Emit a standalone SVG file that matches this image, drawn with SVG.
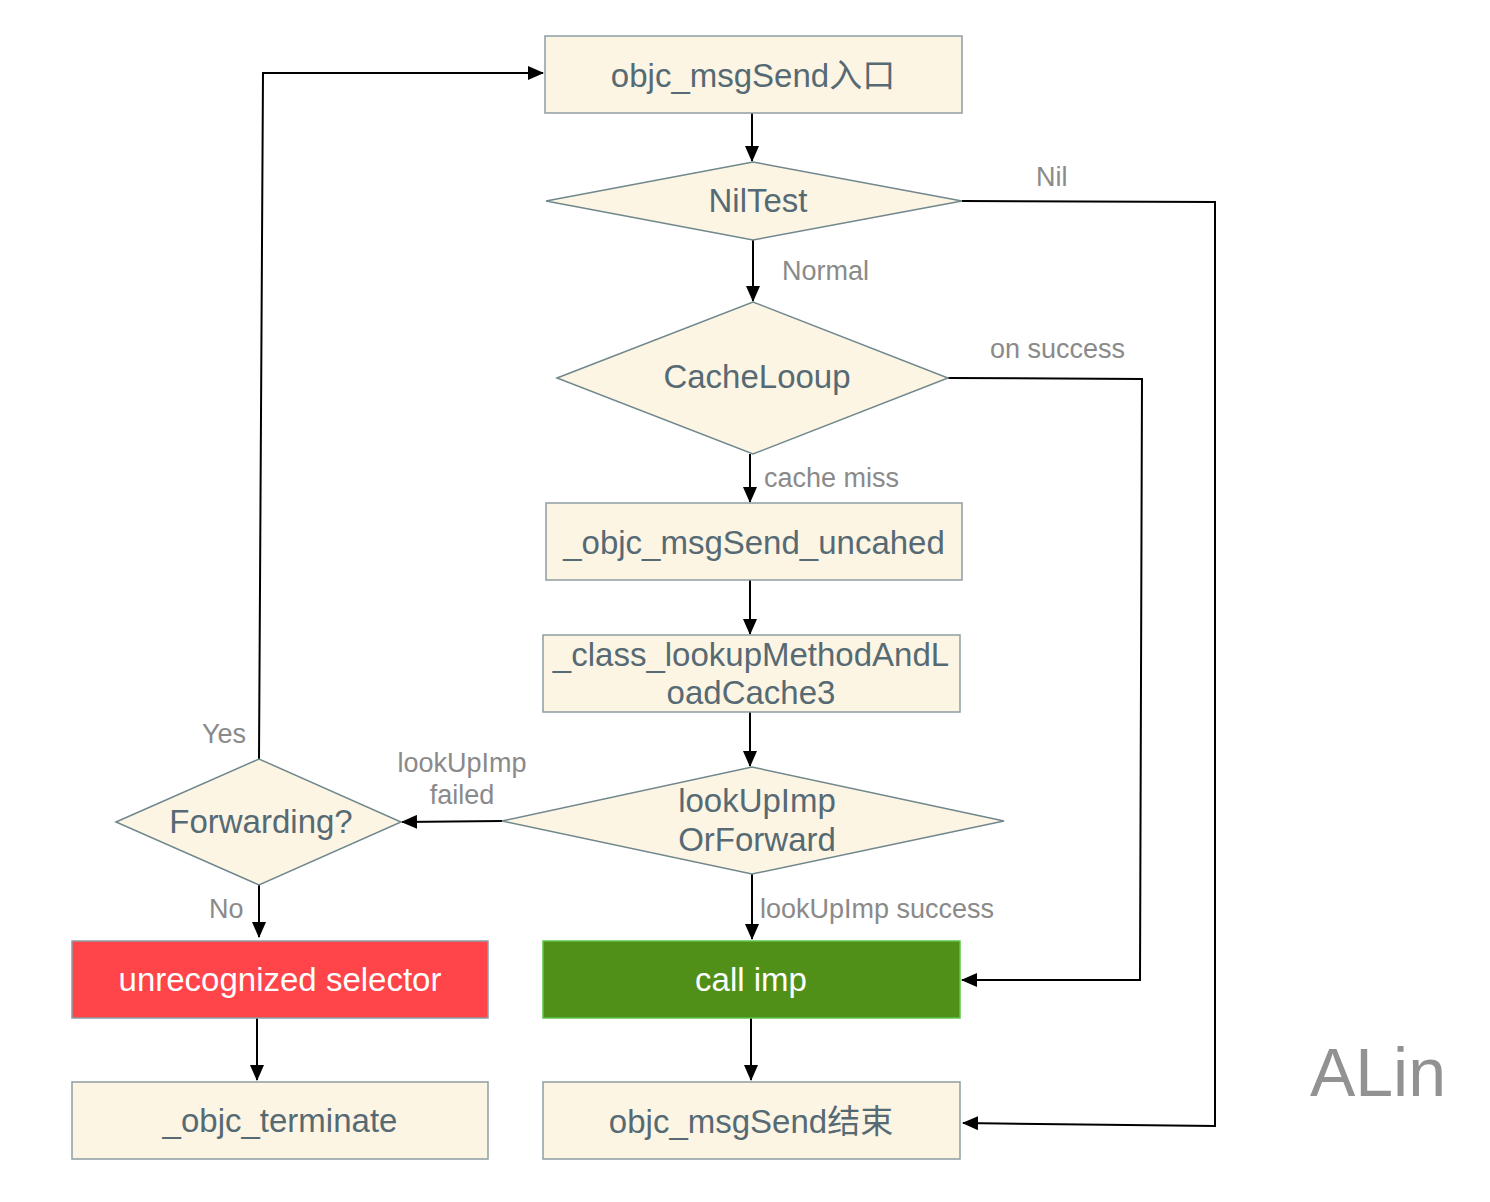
<svg xmlns="http://www.w3.org/2000/svg" width="1490" height="1202" viewBox="0 0 1490 1202">
<defs>
<marker id="arr" markerWidth="16" markerHeight="14" refX="15" refY="7" orient="auto" markerUnits="userSpaceOnUse">
<path d="M0,0 L16,7 L0,14 Z" fill="#000"/>
</marker>
<style>
.box{fill:#FDF5E4;stroke:#8E9DA2;stroke-width:1.5}
.dia{fill:#FDF5E4;stroke:#6F878D;stroke-width:1.5}
.t{font-family:"Liberation Sans",Arial,"Noto Sans CJK SC",sans-serif;font-size:33px;fill:#566A74;text-anchor:middle}
.w{fill:#FFFFFF}
.lbl{font-family:"Liberation Sans",Arial,sans-serif;font-size:27px;fill:#8A8A8A}
.e{fill:none;stroke:#000;stroke-width:2;marker-end:url(#arr)}
</style>
</defs>
<rect width="1490" height="1202" fill="#FFFFFF"/>
<g id="connectors">
<path class="e" d="M752,113 L752,161"/>
<path class="e" d="M753,240 L753,301"/>
<path class="e" d="M962,201 L1215,202 L1215,1126 L963,1123"/>
<path class="e" d="M948,378 L1142,379 L1140,980 L962,980"/>
<path class="e" d="M750,454 L750,502"/>
<path class="e" d="M750,580 L750,634"/>
<path class="e" d="M750,712 L750,766"/>
<path class="e" d="M502,821 L402,822"/>
<path class="e" d="M259,759 L263,73 L543,73"/>
<path class="e" d="M259,885 L259,937"/>
<path class="e" d="M752,874 L752,939"/>
<path class="e" d="M257,1018 L257,1080"/>
<path class="e" d="M751,1018 L751,1080"/>
<text class="lbl" x="1036" y="186">Nil</text>
<text class="lbl" x="782" y="280">Normal</text>
<text class="lbl" x="990" y="358">on success</text>
<text class="lbl" x="764" y="487">cache miss</text>
<text class="lbl" x="462" y="772" text-anchor="middle">lookUpImp</text>
<text class="lbl" x="462" y="804" text-anchor="middle">failed</text>
<text class="lbl" x="202" y="743">Yes</text>
<text class="lbl" x="209" y="918">No</text>
<text class="lbl" x="760" y="918">lookUpImp success</text>
</g>
<g id="entry">
<rect class="box" x="545" y="36" width="417" height="77"/>
<text class="t" x="753" y="87">objc_msgSend入口</text>
</g>
<g id="niltest">
<polygon class="dia" points="546,201 753,162 962,201 753,240"/>
<text class="t" x="758" y="212">NilTest</text>
</g>
<g id="cachelookup">
<polygon class="dia" points="557,378 753,302 948,378 753,454"/>
<text class="t" x="757" y="388">CacheLooup</text>
</g>
<g id="uncached">
<rect class="box" x="546" y="503" width="416" height="77"/>
<text class="t" x="754" y="554">_objc_msgSend_uncahed</text>
</g>
<g id="classlookup">
<rect class="box" x="543" y="635" width="417" height="77"/>
<text class="t" x="751" y="666">_class_lookupMethodAndL</text>
<text class="t" x="751" y="704">oadCache3</text>
</g>
<g id="lookupimp">
<polygon class="dia" points="502,821 752,767 1004,821 752,874"/>
<text class="t" x="757" y="812">lookUpImp</text>
<text class="t" x="757" y="851">OrForward</text>
</g>
<g id="forwarding">
<polygon class="dia" points="116,822 259,759 401,822 259,885"/>
<text class="t" x="261" y="833">Forwarding?</text>
</g>
<g id="unrecognized">
<rect x="72" y="941" width="416" height="77" fill="#FF444A" stroke="#8E9DA2" stroke-width="1.5"/>
<text class="t w" x="280" y="991">unrecognized selector</text>
</g>
<g id="terminate">
<rect class="box" x="72" y="1082" width="416" height="77"/>
<text class="t" x="280" y="1132">_objc_terminate</text>
</g>
<g id="callimp">
<rect x="543" y="941" width="417" height="77" fill="#508F18" stroke="#5DC64A" stroke-width="1.5"/>
<text class="t w" x="751" y="991">call imp</text>
</g>
<g id="end">
<rect class="box" x="543" y="1082" width="417" height="77"/>
<text class="t" x="751" y="1133">objc_msgSend结束</text>
</g>
<text x="1378" y="1096" font-family="'Liberation Sans',Arial,sans-serif" font-size="68" fill="#929292" text-anchor="middle">ALin</text>
</svg>
